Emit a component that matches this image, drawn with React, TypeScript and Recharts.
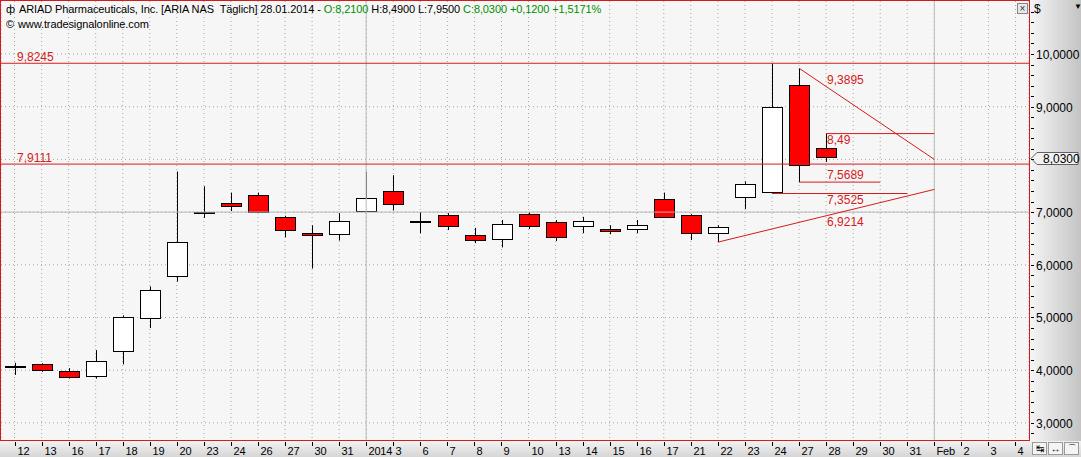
import React from 'react';
import { ComposedChart, Bar, XAxis, YAxis, CartesianGrid, ReferenceLine, ReferenceDot } from 'recharts';

const dates = [
  '2013-12-12', '2013-12-13', '2013-12-16', '2013-12-17', '2013-12-18', '2013-12-19', '2013-12-20',
  '2013-12-23', '2013-12-24', '2013-12-26', '2013-12-27', '2013-12-30', '2013-12-31',
  '2014-01-02', '2014-01-03', '2014-01-06', '2014-01-07', '2014-01-08', '2014-01-09', '2014-01-10',
  '2014-01-13', '2014-01-14', '2014-01-15', '2014-01-16', '2014-01-17', '2014-01-21', '2014-01-22',
  '2014-01-23', '2014-01-24', '2014-01-27', '2014-01-28', '2014-01-29', '2014-01-30', '2014-01-31',
  '2014-02-01', '2014-02-02', '2014-02-03', '2014-02-04',
];

const dateLabels = [
  '12', '13', '16', '17', '18', '19', '20', '23', '24', '26', '27', '30', '31',
  '2014', '3', '6', '7', '8', '9', '10', '13', '14', '15', '16', '17', '21', '22',
  '23', '24', '27', '28', '29', '30', '31', 'Feb', '2', '3', '4',
];

// OHLC, 12.12.2013 - 28.01.2014
const opens = [4.06, 4.11, 3.98, 3.885, 4.35, 4.99, 5.78, 6.99, 7.17, 7.33, 6.91, 6.6, 6.58, 7.03, 7.4, 6.84, 6.94, 6.56, 6.49, 6.96, 6.81, 6.73, 6.68, 6.68, 7.25, 6.94, 6.6, 7.29, 7.38, 9.42, 8.21];
const highs = [4.14, 4.13, 4.04, 4.38, 5.04, 5.59, 7.77, 7.49, 7.37, 7.37, 6.93, 6.75, 6.98, 7.77, 7.7, 7.0, 6.98, 6.7, 6.85, 7.0, 6.85, 6.91, 6.75, 6.85, 7.37, 6.96, 6.75, 7.58, 9.8245, 9.73, 8.49];
const lows = [3.91, 3.97, 3.84, 3.84, 4.11, 4.8, 5.68, 6.89, 7.02, 7.0, 6.52, 5.93, 6.46, 7.0, 7.03, 6.6, 6.66, 6.41, 6.33, 6.68, 6.45, 6.6, 6.58, 6.6, 6.91, 6.47, 6.43, 7.06, 7.3525, 7.5689, 7.95];
const closes = [4.07, 4.0, 3.87, 4.17, 5.0, 5.53, 6.43, 7.01, 7.12, 7.0, 6.66, 6.56, 6.83, 7.27, 7.15, 6.83, 6.73, 6.47, 6.77, 6.73, 6.52, 6.83, 6.64, 6.75, 6.91, 6.6, 6.71, 7.54, 8.99, 7.9111, 8.03];

const majorTicks = [3, 4, 5, 6, 7, 8, 9, 10];
const minorTicks = Array.from({ length: 41 }, (_, i) => +(2.8 + i * 0.2).toFixed(1));

const levelLines = [9.8245, 7.9111];
const lastPrice = 8.03;

// annotation labels: [text, value where it sits]
const notes: [string, number][] = [
  ['9,3895', 9.507],
  ['8,49', 8.36],
  ['7,5689', 7.704],
  ['7,3525', 7.23],
  ['6,9214', 6.818],
];

const RED = '#d41c1c';
const FONT = '"Liberation Sans", Arial, sans-serif';

const data = dates.map((d, i) => ({
  date: d,
  open: opens[i],
  high: highs[i],
  low: lows[i],
  close: closes[i],
  range: i < opens.length ? [lows[i], highs[i]] : undefined,
}));

const fmt = (v: number) => v.toFixed(4).replace('.', ',');

const Candle = (props: any) => {
  const { x, y, width, height, payload } = props;
  if (payload == null || payload.high == null) return null;
  const top0 = Math.min(y, y + height);
  const h0 = Math.abs(height);
  const k = h0 / (payload.high - payload.low);
  const cx = Math.round(x + width / 2) + 0.5;
  const yO = top0 + (payload.high - payload.open) * k;
  const yC = top0 + (payload.high - payload.close) * k;
  const bodyTop = Math.round(Math.min(yO, yC)) + 0.5;
  const bodyH = Math.max(Math.round(Math.abs(yC - yO)), 1);
  const up = payload.close >= payload.open;
  return (
    <g>
      <line x1={cx} x2={cx} y1={top0} y2={top0 + h0} stroke="#000" strokeWidth={1} />
      <rect x={cx - 10} y={bodyTop} width={20} height={bodyH} fill={up ? '#ffffff' : '#ff0000'} stroke="#000" strokeWidth={1} />
    </g>
  );
};

const XTick = (props: any) => {
  const { x, y, index } = props;
  const px = Math.round(x) + 0.5;
  return (
    <g>
      <line x1={px} x2={px} y1={y + 2} y2={y + 6} stroke="#000" />
      <text x={px + 2} y={y + 15} fontSize={11} fontFamily={FONT} fill="#000" letterSpacing={-0.2}>
        {dateLabels[index]}
      </text>
    </g>
  );
};

const YTick = (props: any) => {
  const { x, y, payload } = props;
  const v = payload.value;
  const py = Math.round(y) + 0.5;
  // the last-price tag hides the 8 label
  const major = majorTicks.includes(v) && Math.abs(v - lastPrice) > 0.15;
  return (
    <g>
      <line x1={x + 2} x2={x + 5} y1={py} y2={py} stroke="#000" />
      {major && (
        <text x={x + 7} y={py + 4} fontSize={12} fontFamily={FONT} fill="#000">
          {fmt(v)}
        </text>
      )}
    </g>
  );
};

const LevelLabel = (props: any) => {
  const { viewBox, text } = props;
  return (
    <text x={17} y={viewBox.y - 2} fontSize={12} fontFamily={FONT} fill={RED}>
      {text}
    </text>
  );
};

const PriceTag = (props: any) => {
  const { viewBox } = props;
  const x0 = viewBox.x + viewBox.width + 2;
  const cy = Math.round(viewBox.y) + 0.5;
  const path = `M${x0},${cy} L${x0 + 6},${cy - 6} L${x0 + 47},${cy - 6} L${x0 + 47},${cy + 6} L${x0 + 6},${cy + 6} Z`;
  return (
    <g>
      <path d={path} fill="#f2f2f2" stroke="#606060" />
      <text x={x0 + 12} y={cy + 4} fontSize={12} fontFamily={FONT} fill="#000">
        {fmt(lastPrice)}
      </text>
    </g>
  );
};

const NoteText = (text: string) => (p: any) => (
  <text x={p.cx + 1} y={p.cy + 4} fontSize={12} fontFamily={FONT} fill={RED}>
    {text}
  </text>
);

export default function App() {
  return (
    <div style={{ position: 'relative', width: 1081, height: 457, overflow: 'hidden', background: '#f6f6f6' }}>
      <style>{'body{margin:0}'}</style>
      <div style={{ position: 'absolute', left: 1029, top: 0, width: 52, height: 441, background: 'linear-gradient(90deg, #f6f6f6, #c4c4c4)' }} />
      <div style={{ position: 'absolute', left: 0, top: 441, width: 1081, height: 16, background: 'linear-gradient(#f2f2f2, #d6d6d6)' }} />

      <ComposedChart width={1081} height={457} data={data} margin={{ top: 1, right: 0, bottom: 0, left: 1 }} style={{ position: 'absolute', left: 0, top: 0 }}>
        <CartesianGrid stroke="#a8a8a8" strokeDasharray="1 3" horizontalValues={majorTicks} />
        <XAxis dataKey="date" interval={0} tick={<XTick />} tickLine={false} axisLine={false} tickSize={0} tickMargin={0} height={17} />
        <YAxis orientation="right" type="number" domain={[2.675, 11.006]} allowDataOverflow ticks={minorTicks} interval={0} tick={<YTick />} tickLine={false} axisLine={false} tickSize={0} tickMargin={0} width={52} />

        <ReferenceLine y={7} stroke="#b8b8b8" />
        <ReferenceLine x="2014-01-02" stroke="#b8bdb8" />
        <ReferenceLine x="2014-02-01" stroke="#b8bdb8" />

        {levelLines.map((v) => (
          <ReferenceLine key={v} y={v} stroke={RED} label={<LevelLabel text={fmt(v).slice(0, 6)} />} />
        ))}

        <ReferenceLine segment={[{ x: '2014-01-27', y: 9.73 }, { x: '2014-02-01', y: 8.0 }]} stroke={RED} />
        <ReferenceLine segment={[{ x: '2014-01-22', y: 6.43 }, { x: '2014-02-01', y: 7.43 }]} stroke={RED} />
        <ReferenceLine segment={[{ x: '2014-01-28', y: 8.49 }, { x: '2014-02-01', y: 8.49 }]} stroke={RED} />
        <ReferenceLine segment={[{ x: '2014-01-27', y: 7.5689 }, { x: '2014-01-30', y: 7.5689 }]} stroke={RED} />
        <ReferenceLine segment={[{ x: '2014-01-24', y: 7.3525 }, { x: '2014-01-31', y: 7.3525 }]} stroke={RED} />

        <Bar dataKey="range" shape={<Candle />} isAnimationActive={false} />

        {notes.map(([t, v]) => (
          <ReferenceDot key={t} x="2014-01-28" y={v} r={0} shape={NoteText(t)} />
        ))}

        <ReferenceLine y={lastPrice} stroke="none" ifOverflow="visible" label={<PriceTag />} />
      </ComposedChart>

      <div style={{ position: 'absolute', left: 0, top: 0, width: 1028, height: 439, border: `1px solid ${RED}`, pointerEvents: 'none' }} />

      <div style={{ position: 'absolute', left: 6, top: 2, fontFamily: FONT, fontSize: 11, letterSpacing: -0.1, lineHeight: '15px', color: '#000', whiteSpace: 'pre' }}>
        <div>
          <span style={{ marginRight: 4 }}>ф</span>
          ARIAD Pharmaceuticals, Inc. [ARIA NAS  Täglich] 28.01.2014 - <span style={{ color: '#009000' }}>O:8,2100</span> H:8,4900 L:7,9500{' '}
          <span style={{ color: '#009000' }}>C:8,0300 +0,1200 +1,5171%</span>
        </div>
        <div>
          <span style={{ marginRight: 4 }}>©</span>www.tradesignalonline.com
        </div>
      </div>

      <div style={{ position: 'absolute', left: 1017, top: 3, width: 9, height: 9, border: '1px solid #888', background: '#e8e8e8', fontFamily: FONT, fontSize: 10, lineHeight: '9px', textAlign: 'center', color: '#333' }}>×</div>
      <div style={{ position: 'absolute', left: 1034, top: 2, fontFamily: FONT, fontSize: 12 }}>$</div>
      <div style={{ position: 'absolute', left: 1074, top: 2, fontFamily: FONT, fontSize: 8 }}>▼</div>

      <div style={{ position: 'absolute', left: 1032, top: 442, display: 'flex', gap: 1 }}>
        {['↹', '↔', '⌒'].map((g) => (
          <div key={g} style={{ width: 13, height: 11, border: '1px solid #9a9a9a', background: '#f4f4f4', fontFamily: FONT, fontSize: 10, lineHeight: '11px', textAlign: 'center' }}>{g}</div>
        ))}
      </div>
    </div>
  );
}
